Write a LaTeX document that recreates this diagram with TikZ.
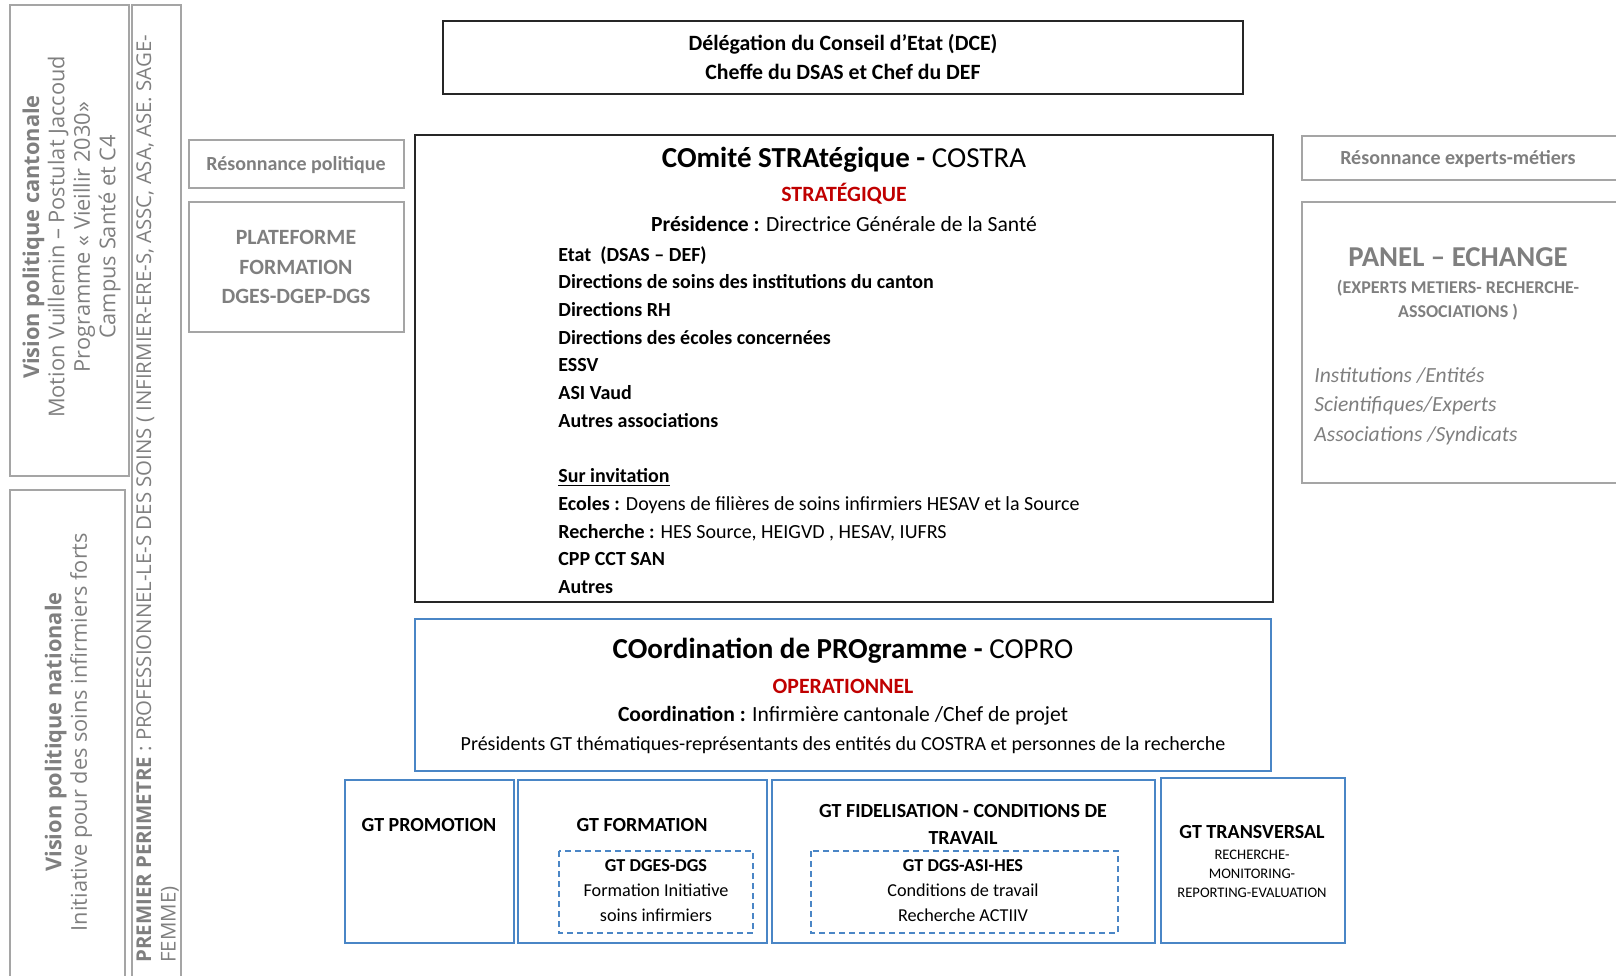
\documentclass[tikz,border=0pt]{standalone}
\usepackage{fontspec}
\setmainfont{Carlito}
\newfontfamily\osans{Open Sans}
\usetikzlibrary{positioning}

\definecolor{txtgray}{RGB}{127,127,127}
\definecolor{linegray}{RGB}{165,165,165}
\definecolor{gtblue}{RGB}{74,134,198}
\definecolor{redlab}{RGB}{192,0,0}

\tikzset{
  blackbox/.style={draw=black!85,line width=0.8pt},
  graybox/.style={draw=linegray,line width=0.8pt},
  bluebox/.style={draw=gtblue,line width=0.8pt},
  dashbox/.style={draw=gtblue,line width=0.7pt,dash pattern=on 3pt off 2pt},
  txt/.style={inner sep=0pt,align=center},
  graytxt/.style={txt,text=txtgray},
}

\begin{document}
\begin{tikzpicture}[x=0.5pt,y=-0.5pt]
\useasboundingbox (0,0) rectangle (1616,975);
\clip (0,0) rectangle (1616,975);
% left columns
\draw[graybox] (10,5) rectangle (129,476);
\draw[graybox] (10,490) rectangle (125,990);
\draw[graybox] (132,5) rectangle (181,990);
\node[graytxt,rotate=90,font=\osans\fontsize{10.9}{12.7}\selectfont] (cantonale) at (71.5,237)
  {\textbf{Vision politique cantonale}\\Motion Vuillemin – Postulat Jaccoud\\Programme « Vieillir 2030»\\Campus Santé et C4};
\node[graytxt,rotate=90,font=\osans\fontsize{10.9}{12.7}\selectfont] (nationale) at (68.5,732)
  {\textbf{Vision politique nationale}\\Initiative pour des soins infirmiers forts};
\node[graytxt,rotate=90,anchor=north west,align=left,font=\osans\fontsize{10.2}{12.2}\selectfont] (perimetre) at (136,963)
  {\textbf{PREMIER PERIMETRE} : PROFESSIONNEL-LE-S DES SOINS ( INFIRMIER-ERE-S, ASSC, ASA, ASE. SAGE-\\FEMME)};
% resonnance politique / plateforme
\draw[graybox] (189,140) rectangle (404,188);
\node[graytxt,font=\bfseries\fontsize{10}{12}\selectfont] (respol) at (296,165) {Résonnance politique};
\draw[graybox] (189,202) rectangle (404,332);
\node[graytxt,font=\bfseries\fontsize{10.9}{14.8}\selectfont] (plateforme) at (296,267) {PLATEFORME\\FORMATION\\DGES-DGEP-DGS};
% DCE
\draw[blackbox] (443,21) rectangle (1243,94);
\node[txt,font=\bfseries\fontsize{10.9}{14.5}\selectfont] (dce) at (843,56.5)
  {Délégation du Conseil d’Etat (DCE)\\Cheffe du DSAS et Chef du DEF};
% COSTRA
\draw[blackbox] (415,135) rectangle (1273,602);
\node[txt,font=\fontsize{14.5}{16}\selectfont] (costra) at (844,160) {\textbf{COmité STRAtégique -} COSTRA};
\node[txt,text=redlab,font=\bfseries\fontsize{10.9}{12}\selectfont] (strat) at (844,194) {STRATÉGIQUE};
\node[txt,font=\fontsize{10.8}{12}\selectfont] (presid) at (844,224) {\textbf{Présidence :} Directrice Générale de la Santé};
\node[txt,anchor=west,align=left,font=\fontsize{10}{13.85}\selectfont] (membres) at (558,420)
  {\textbf{Etat\ \ (DSAS – DEF)}\\
   \textbf{Directions de soins des institutions du canton}\\
   \textbf{Directions RH}\\
   \textbf{Directions des écoles concernées}\\
   \textbf{ESSV}\\
   \textbf{ASI Vaud}\\
   \textbf{Autres associations}\\
   \mbox{}\\
   \textbf{\underline{Sur invitation}}\\
   \textbf{Ecoles :} Doyens de filières de soins infirmiers HESAV et la Source\\
   \textbf{Recherche :} HES Source, HEIGVD , HESAV, IUFRS\\
   \textbf{CPP CCT SAN}\\
   \textbf{Autres}};
% COPRO
\draw[bluebox] (415,619) rectangle (1271,771);
\node[txt,font=\fontsize{14.5}{16}\selectfont] (copro) at (843,651) {\textbf{COordination de PROgramme -} COPRO};
\node[txt,text=redlab,font=\bfseries\fontsize{10.9}{12}\selectfont] (oper) at (843,686) {OPERATIONNEL};
\node[txt,font=\fontsize{10.8}{12}\selectfont] (coord) at (843,716) {\textbf{Coordination :} Infirmière cantonale /Chef de projet};
\node[txt,font=\fontsize{10}{12}\selectfont] (presgt) at (843,745)
  {Présidents GT thématiques-représentants des entités du COSTRA et personnes de la recherche};
% GT boxes
\draw[bluebox] (345,780) rectangle (514,943);
\node[txt,font=\bfseries\fontsize{10}{12}\selectfont] (gtpromo) at (429,825) {GT PROMOTION};
\draw[bluebox] (518,780) rectangle (767,943);
\node[txt,font=\bfseries\fontsize{10}{12}\selectfont] (gtform) at (642,825) {GT FORMATION};
\draw[dashbox] (559,851) rectangle (753,933);
\node[txt,font=\fontsize{9.1}{12.5}\selectfont] (gtdges) at (656,891)
  {\textbf{GT DGES-DGS}\\Formation Initiative\\soins infirmiers};
\draw[bluebox] (772,780) rectangle (1155,943);
\node[txt,font=\bfseries\fontsize{10}{13.2}\selectfont] (gtfidel) at (963,824.5)
  {GT FIDELISATION - CONDITIONS DE\\TRAVAIL};
\draw[dashbox] (811,851) rectangle (1118,933);
\node[txt,font=\fontsize{9.1}{12.5}\selectfont] (gtdgs) at (963,891)
  {\textbf{GT DGS-ASI-HES}\\Conditions de travail\\Recherche ACTIIV};
\draw[bluebox] (1161,778) rectangle (1345,943);
\node[txt,font=\bfseries\fontsize{10}{12}\selectfont] (gttrans) at (1252,831.5) {GT TRANSVERSAL};
\node[txt,font=\fontsize{7.3}{9.5}\selectfont] (gttranstxt) at (1252,874)
  {RECHERCHE-\\MONITORING-\\REPORTING-EVALUATION};
% right side
\draw[graybox] (1302,136) rectangle (1630,180);
\node[graytxt,font=\bfseries\fontsize{10}{12}\selectfont] (resexp) at (1458,159) {Résonnance experts-métiers};
\draw[graybox] (1302,202) rectangle (1630,483);
\node[graytxt,font=\bfseries\fontsize{14.4}{16}\selectfont] (panel) at (1458,257) {PANEL – ECHANGE};
\node[graytxt,font=\bfseries\fontsize{9}{12}\selectfont] (panelsub) at (1458,300.5)
  {(EXPERTS METIERS- RECHERCHE-\\ASSOCIATIONS )};
\node[graytxt,anchor=west,align=left,font=\itshape\fontsize{10.8}{14.8}\selectfont] (panelitems) at (1314,406)
  {Institutions /Entités\\Scientifiques/Experts\\Associations /Syndicats};
\end{tikzpicture}
\end{document}
